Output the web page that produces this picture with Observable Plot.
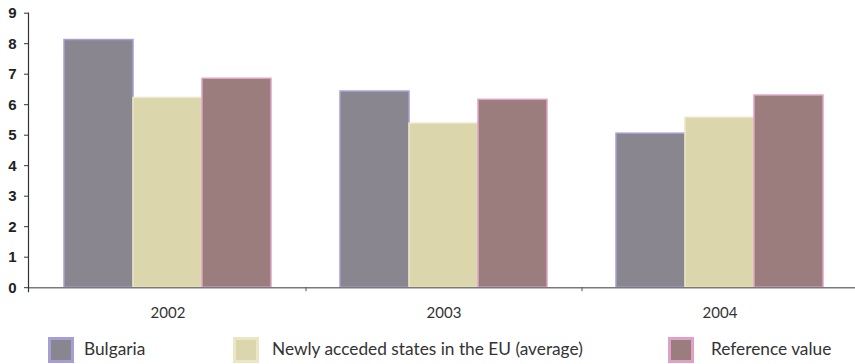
<!DOCTYPE html>
<html>
<head>
<meta charset="utf-8">
<script src="https://cdn.jsdelivr.net/npm/d3@7"></script>
<script src="https://cdn.jsdelivr.net/npm/@observablehq/plot@0.6"></script>
<style>
  html, body { margin: 0; padding: 0; background: #fff; overflow: hidden; width: 855px; height: 364px; }
  #chart { position: relative; width: 859px; }
  #legend { position: relative; height: 38px; font-family: Lato, sans-serif; font-size: 17.3px; color: #333; }
  .sw { position: absolute; top: 11px; width: 20px; height: 20px; border: 3px solid; }
  .lt { position: absolute; top: 12px; line-height: 22px; white-space: nowrap; }
</style>
</head>
<body>
<div id="chart"></div>
<div id="legend"></div>
<script>
const years = ["2002", "2003", "2004"];
const seriesNames = ["Bulgaria", "Newly acceded states in the EU (average)", "Reference value"];
const bulgaria = [8.12, 6.43, 5.05];
const newlyAcceded = [6.22, 5.38, 5.57];
const referenceValue = [6.85, 6.16, 6.3];
const yTicks = [0, 1, 2, 3, 4, 5, 6, 7, 8, 9];

const fills = ["#8a8690", "#dbd6ab", "#9b7d7e"];
const strokes = ["#a59fd6", "#ebe7c6", "#dfa2c6"];

const valuesBySeries = [bulgaria, newlyAcceded, referenceValue];
const rows = [];
years.forEach((yr, i) => {
  seriesNames.forEach((s, j) => {
    rows.push({year: yr, series: s, key: yr + "|" + s, value: valuesBySeries[j][i], stroke: strokes[j]});
  });
});

// band domain: three bars per year with a spacer slot between years
const domain = [];
const gapKeys = [];
years.forEach((yr, i) => {
  seriesNames.forEach(s => domain.push(yr + "|" + s));
  if (i < years.length - 1) { const g = "gap" + i; domain.push(g); gapKeys.push(g); }
});
const labelKeys = years.map(yr => yr + "|" + seriesNames[1]);

const W = 859, H = 326;
const plot = Plot.plot({
  width: W,
  height: H,
  marginLeft: 28,
  marginRight: 0,
  marginTop: 12.7,
  marginBottom: H - 287.2,
  x: {type: "band", domain, padding: 0, paddingOuter: 0.5, axis: null, label: null},
  y: {domain: [0, 9], axis: null, label: null},
  color: {domain: seriesNames, range: fills},
  marks: [
    Plot.barY(rows, {x: "key", y: "value", fill: "series", stroke: "stroke", strokeWidth: 1.5, inset: 0}),
    Plot.ruleY([0], {stroke: "#7a7a7a", strokeWidth: 1.6}),
    Plot.axisX({ticks: gapKeys, tickSize: 4, tickFormat: () => "", stroke: "#555", label: null}),
    Plot.axisX({ticks: labelKeys, tickSize: 0, tickPadding: 20, tickFormat: k => k.split("|")[0], label: null,
      fontFamily: "Lato, sans-serif", fontSize: 15, fill: "#333"}),
    Plot.frame({anchor: "left", stroke: "#333", strokeWidth: 1.2, insetBottom: -4}),
    Plot.axisY({ticks: yTicks, tickSize: 4, tickPadding: 8, stroke: "#333", fill: "#222", label: null,
      fontFamily: "Liberation Sans, Arial, sans-serif", fontSize: 15, fontWeight: "bold"})
  ]
});
document.getElementById("chart").appendChild(plot);

const legend = document.getElementById("legend");
const swLeft = [48, 233, 668];
const txLeft = [84, 272, 711];
seriesNames.forEach((s, j) => {
  const sw = document.createElement("div");
  sw.className = "sw";
  sw.style.left = swLeft[j] + "px";
  sw.style.background = fills[j];
  sw.style.borderColor = strokes[j];
  legend.appendChild(sw);
  const t = document.createElement("div");
  t.className = "lt";
  t.style.left = txLeft[j] + "px";
  t.textContent = s;
  legend.appendChild(t);
});
</script>
</body>
</html>
